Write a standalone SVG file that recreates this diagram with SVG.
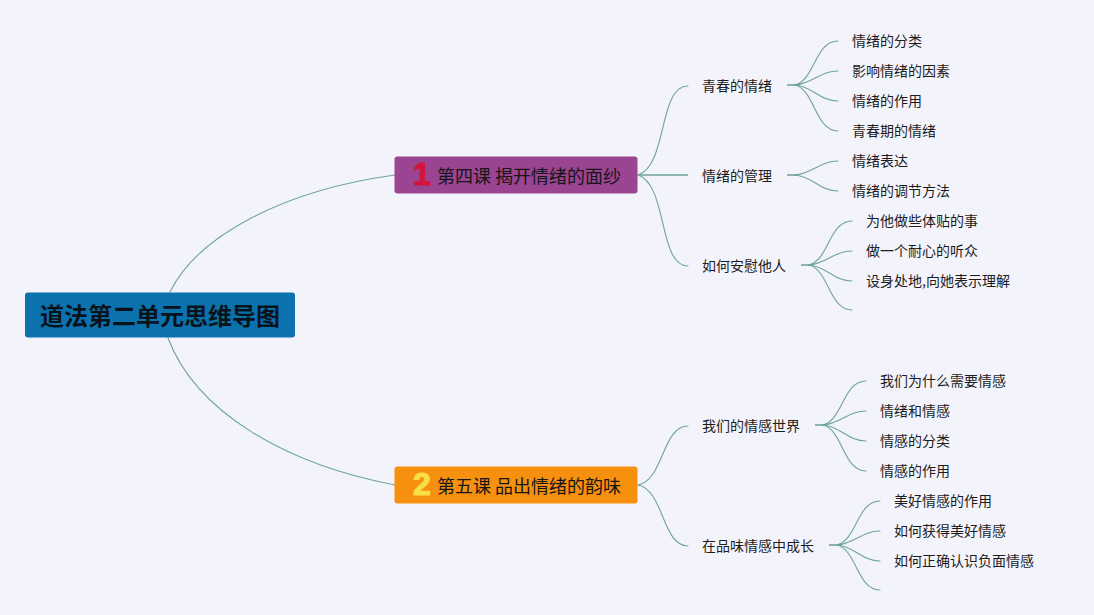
<svg xmlns="http://www.w3.org/2000/svg" width="1094" height="615" viewBox="0 0 1094 615">
<style>
text{font-family:"Noto Sans CJK SC","Liberation Sans",sans-serif;fill:#1c1c1c;dominant-baseline:central}
.leaf{font-size:14px}
.topic{font-size:18px;fill:#161616}
.num{font-family:"Liberation Sans","Noto Sans",sans-serif;font-size:32px;font-weight:700;text-anchor:middle;stroke-width:1.2}
.root{font-size:24px;font-weight:700;fill:#08131c}
.c{fill:none;stroke:#6fa596;stroke-width:1.1;stroke-linecap:round}
.s{fill:none;stroke:#6fa596;stroke-width:1.6}
</style>
<rect width="1094" height="615" fill="#f3f3fb"/>
<g id="connectors">
<path class="c" d="M170 292C198 235 285 190 395 175"/>
<path class="c" d="M168 338C196 412 285 464 395 485"/>
<path class="c" d="M638 175C668 165 658 86 688 86"/>
<path class="s" d="M638 175H688"/>
<path class="c" d="M638 175C668 185 658 266 688 266"/>
<path class="c" d="M638 485C664 480 662 426 688 426"/>
<path class="c" d="M638 485C664 490 662 546 688 546"/>
<path class="s" d="M787 85H798"/>
<path class="c" d="M795 85C815 80 815 41 838 41"/>
<path class="c" d="M795 85C812 84 820 71 838 71"/>
<path class="c" d="M795 85C812 86 820 101 838 101"/>
<path class="c" d="M795 85C815 90 815 131 838 131"/>
<path class="s" d="M787 175H798"/>
<path class="c" d="M795 175C812 174 820 161 838 161"/>
<path class="c" d="M795 175C812 176 820 191 838 191"/>
<path class="s" d="M801 265H812"/>
<path class="c" d="M809 265C829 260 829 221 852 221"/>
<path class="c" d="M809 265C826 264 834 251 852 251"/>
<path class="c" d="M809 265C826 266 834 281 852 281"/>
<path class="c" d="M809 265C829 270 829 310 852 310"/>
<path class="s" d="M815 425H826"/>
<path class="c" d="M823 425C843 420 843 381 866 381"/>
<path class="c" d="M823 425C840 424 848 411 866 411"/>
<path class="c" d="M823 425C840 426 848 441 866 441"/>
<path class="c" d="M823 425C843 430 843 471 866 471"/>
<path class="s" d="M829 545H840"/>
<path class="c" d="M837 545C857 540 857 501 880 501"/>
<path class="c" d="M837 545C854 544 862 531 880 531"/>
<path class="c" d="M837 545C854 546 862 561 880 561"/>
<path class="c" d="M837 545C857 550 857 590 880 590"/>
</g>
<g id="root"><rect x="25" y="292.5" width="270" height="45" rx="3" fill="#0c72ad"/><text class="root" x="40" y="314.5">道法第二单元思维导图</text></g>
<g id="topic1"><rect x="394.5" y="156.5" width="243" height="37" rx="3" fill="#9b4492"/><text class="num" x="422" y="173.5" style="fill:#d3143c;stroke:#d3143c">1</text><text class="topic" x="437" y="175">第四课 揭开情绪的面纱</text></g>
<g id="topic2"><rect x="394.5" y="466.5" width="243" height="37" rx="3" fill="#f8900f"/><text class="num" x="422" y="483.5" style="fill:#f9df47;stroke:#f9df47">2</text><text class="topic" x="437" y="485">第五课 品出情绪的韵味</text></g>
<g id="n1"><text class="leaf" x="702" y="85">青春的情绪</text></g>
<g id="n2"><text class="leaf" x="702" y="175">情绪的管理</text></g>
<g id="n3"><text class="leaf" x="702" y="265">如何安慰他人</text></g>
<g id="n4"><text class="leaf" x="702" y="425">我们的情感世界</text></g>
<g id="n5"><text class="leaf" x="702" y="545">在品味情感中成长</text></g>
<g id="l1"><text class="leaf" x="852" y="40">情绪的分类</text></g>
<g id="l2"><text class="leaf" x="852" y="70">影响情绪的因素</text></g>
<g id="l3"><text class="leaf" x="852" y="100">情绪的作用</text></g>
<g id="l4"><text class="leaf" x="852" y="130">青春期的情绪</text></g>
<g id="l5"><text class="leaf" x="852" y="160">情绪表达</text></g>
<g id="l6"><text class="leaf" x="852" y="190">情绪的调节方法</text></g>
<g id="l7"><text class="leaf" x="866" y="220">为他做些体贴的事</text></g>
<g id="l8"><text class="leaf" x="866" y="250">做一个耐心的听众</text></g>
<g id="l9"><text class="leaf" x="866" y="280">设身处地,向她表示理解</text></g>
<g id="l10"><text class="leaf" x="880" y="380">我们为什么需要情感</text></g>
<g id="l11"><text class="leaf" x="880" y="410">情绪和情感</text></g>
<g id="l12"><text class="leaf" x="880" y="440">情感的分类</text></g>
<g id="l13"><text class="leaf" x="880" y="470">情感的作用</text></g>
<g id="l14"><text class="leaf" x="894" y="500">美好情感的作用</text></g>
<g id="l15"><text class="leaf" x="894" y="530">如何获得美好情感</text></g>
<g id="l16"><text class="leaf" x="894" y="560">如何正确认识负面情感</text></g>
</svg>
